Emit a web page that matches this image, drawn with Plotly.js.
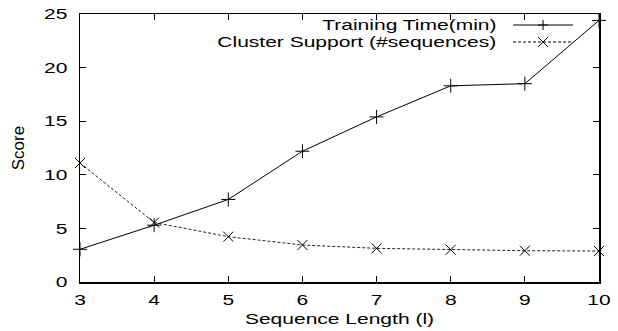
<!DOCTYPE html>
<html><head><meta charset="utf-8">
<script src="https://cdn.plot.ly/plotly-3.0.1.min.js"></script>
<style>body{margin:0;padding:0;background:#fff}#c{width:618px;height:331px}</style>
</head><body><div id="c"></div>
<script>
const seqLength = [3, 4, 5, 6, 7, 8, 9, 10];
const trainingTime = [3.05, 5.3, 7.7, 12.2, 15.4, 18.3, 18.5, 24.4];
const clusterSupport = [11.1, 5.55, 4.23, 3.45, 3.14, 3.01, 2.92, 2.89];
const seriesNames = ["Training Time(min)", "Cluster Support (#sequences)"];
const xTicks = [3, 4, 5, 6, 7, 8, 9, 10];
const yTicks = [0, 5, 10, 15, 20, 25];

const F = "Liberation Sans, Arial, sans-serif";
const K = 1.4; // horizontal stretch of the reference's lettering
const L = 79.5, R = 19, T = 14, B = 49, W = 618, H = 331;
const pw = W - L - R, ph = H - T - B;
const px = v => (v - L) / pw, py = v => 1 - (v - T) / ph;

const traces = [
  {x: seqLength, y: trainingTime, name: seriesNames[0], mode: "lines+markers", cliponaxis: false,
   line: {color: "#000", width: 1},
   marker: {symbol: "cross-thin", size: 10, line: {color: "#000", width: 1}}},
  {x: seqLength, y: clusterSupport, name: seriesNames[1], mode: "lines+markers", cliponaxis: false,
   line: {color: "#222", width: 1, dash: "3px,2px"},
   marker: {symbol: "x-thin", size: 10, line: {color: "#000", width: 1}}}
];
const legRows = [25, 42];
const shapes = [], annotations = [];
seriesNames.forEach((n, i) => {
  const yp = py(legRows[i]);
  shapes.push({type: "line", xref: "paper", yref: "paper", x0: px(513), x1: px(573), y0: yp, y1: yp,
    line: {color: "#000", width: 1, dash: i ? "3px,2px" : "solid"}});
  const cx = 543, cy = legRows[i], h = 5;
  const path = i
    ? `M${px(cx-h)},${py(cy-h)} L${px(cx+h)},${py(cy+h)} M${px(cx-h)},${py(cy+h)} L${px(cx+h)},${py(cy-h)}`
    : `M${px(cx-h)},${py(cy)} L${px(cx+h)},${py(cy)} M${px(cx)},${py(cy-h)} L${px(cx)},${py(cy+h)}`;
  shapes.push({type: "path", xref: "paper", yref: "paper", path: path, line: {color: "#000", width: 1}});
  annotations.push({xref: "paper", yref: "paper", x: px(497), y: yp, xanchor: "right", yanchor: "middle",
    align: "right", borderpad: 0, text: n, showarrow: false, font: {family: F, size: 15, color: "#000"}});
});
const layout = {
  width: W, height: H,
  margin: {l: L, r: R, t: T, b: B},
  paper_bgcolor: "#fff", plot_bgcolor: "#fff",
  showlegend: false,
  font: {family: F, size: 15, color: "#000"},
  xaxis: {range: [3, 10], tickvals: xTicks, ticks: "inside", ticklen: 6, tickcolor: "#000",
    mirror: "allticks", showline: true, linecolor: "#000", linewidth: 1.5, showgrid: false, zeroline: false,
    title: {text: "Sequence Length (l)", font: {family: F, size: 15, color: "#000"}, standoff: 7},
    tickfont: {family: F, size: 15}, ticklabelstandoff: 3},
  yaxis: {range: [0, 25], tickvals: yTicks, ticks: "inside", ticklen: 6, tickcolor: "#000",
    mirror: "allticks", showline: true, linecolor: "#000", linewidth: 1.5, showgrid: false, zeroline: false,
    title: {text: "Score", font: {family: F, size: 17, color: "#000"}, standoff: 22},
    tickfont: {family: F, size: 15}, ticklabelstandoff: 8},
  shapes: shapes, annotations: annotations
};
const gd = document.getElementById("c");
Plotly.newPlot(gd, traces, layout, {staticPlot: true, displayModeBar: false}).then(() => {
  gd.querySelectorAll(".xtick text, .ytick text, .g-xtitle text, .annotation-text").forEach(t => {
    const len = t.getComputedTextLength();
    t.setAttribute("textLength", (len * K).toFixed(2));
    t.setAttribute("lengthAdjust", "spacingAndGlyphs");
  });
});
</script></body></html>
